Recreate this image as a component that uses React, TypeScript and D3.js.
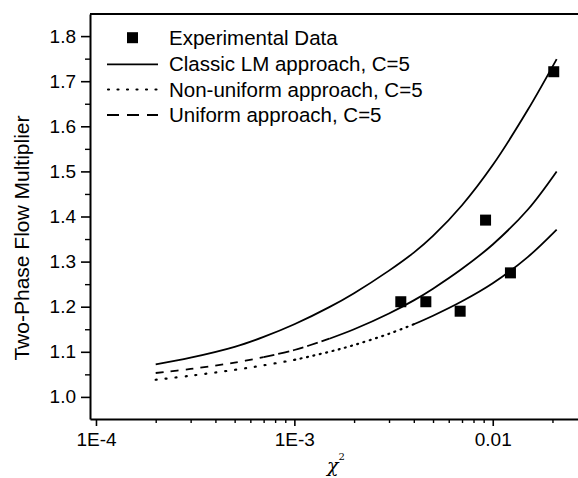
import React, { useEffect, useRef } from 'react';
import * as d3 from 'd3';

// model curves
const chi2 = [2e-4, 3e-4, 5e-4, 7e-4, 1e-3, 1.5e-3, 2e-3, 3e-3, 4e-3, 5e-3, 7e-3, 1e-2, 1.5e-2, 2.1e-2];
const classicLM = [1.072, 1.087, 1.111, 1.133, 1.161, 1.199, 1.23, 1.28, 1.32, 1.357, 1.425, 1.514, 1.636, 1.749];
const uniform = [1.053, 1.062, 1.076, 1.088, 1.104, 1.129, 1.15, 1.185, 1.214, 1.24, 1.284, 1.338, 1.415, 1.5];
const nonUniform = [1.038, 1.047, 1.06, 1.07, 1.082, 1.1, 1.115, 1.14, 1.161, 1.18, 1.212, 1.252, 1.31, 1.371];

// experimental points
const expChi2 = [3.44e-3, 4.6e-3, 6.85e-3, 9.2e-3, 1.228e-2, 2.03e-2];
const expPhi = [1.211, 1.211, 1.19, 1.392, 1.275, 1.721];

const yTicks = [1.0, 1.1, 1.2, 1.3, 1.4, 1.5, 1.6, 1.7, 1.8];
const yMinor = [1.05, 1.15, 1.25, 1.35, 1.45, 1.55, 1.65, 1.75];
const xTicks = [1e-4, 1e-3, 1e-2];
const xTickLabels = ['1E-4', '1E-3', '0.01'];
const xMinor = [2e-4, 3e-4, 4e-4, 5e-4, 6e-4, 7e-4, 8e-4, 9e-4, 2e-3, 3e-3, 4e-3, 5e-3, 6e-3, 7e-3, 8e-3, 9e-3, 2e-2];

const legendLabels = ['Experimental Data', 'Classic LM approach, C=5', 'Non-uniform approach, C=5', 'Uniform approach, C=5'];

const FONT = 'Arial, "Liberation Sans", Helvetica, sans-serif';

function App() {
  const chartRef = useRef<SVGSVGElement>(null);

  useEffect(() => {
    const width = 578;
    const height = 478;
    const margin = { top: 14, right: 0, bottom: 59, left: 90 };

    const svg = d3.select(chartRef.current)
      .attr('width', width)
      .attr('height', height);
    svg.selectAll('*').remove();

    const x = d3.scaleLog()
      .domain([9.33e-5, 0.0269])
      .range([margin.left, width - margin.right]);

    const y = d3.scaleLinear()
      .domain([0.951, 1.849])
      .range([height - margin.bottom, margin.top]);

    // top frame line
    svg.append('line')
      .attr('x1', margin.left).attr('x2', width)
      .attr('y1', margin.top).attr('y2', margin.top)
      .attr('stroke', '#000').attr('stroke-width', 2);

    // y axis
    const yAxis = svg.append('g')
      .attr('transform', `translate(${margin.left},0)`)
      .call(d3.axisLeft(y).tickValues(yTicks).tickSize(9).tickSizeOuter(0).tickPadding(5).tickFormat(d3.format('.1f')));
    yAxis.select('.domain').attr('stroke-width', 2);
    yAxis.selectAll('.tick line').attr('stroke-width', 1.6);
    yAxis.selectAll('text').style('font-family', FONT).style('font-size', '19px').attr('fill', '#000');

    svg.append('g')
      .attr('transform', `translate(${margin.left},0)`)
      .call(d3.axisLeft(y).tickValues(yMinor).tickSize(5).tickFormat(() => ''))
      .call(g => g.select('.domain').remove())
      .selectAll('.tick line').attr('stroke-width', 1.4);

    // x axis
    const xAxis = svg.append('g')
      .attr('transform', `translate(0,${height - margin.bottom})`)
      .call(d3.axisBottom(x).tickValues(xTicks).tickSize(7).tickSizeOuter(0).tickPadding(7)
        .tickFormat((d, i) => xTickLabels[i]));
    xAxis.select('.domain').attr('stroke-width', 2);
    xAxis.selectAll('.tick line').attr('stroke-width', 1.6);
    xAxis.selectAll('text').style('font-family', FONT).style('font-size', '19px').attr('fill', '#000');

    svg.append('g')
      .attr('transform', `translate(0,${height - margin.bottom})`)
      .call(d3.axisBottom(x).tickValues(xMinor).tickSize(4).tickFormat(() => ''))
      .call(g => g.select('.domain').remove())
      .selectAll('.tick line').attr('stroke-width', 1.4);

    // axis titles
    svg.append('text')
      .attr('transform', `translate(29,238) rotate(-90)`)
      .attr('text-anchor', 'middle')
      .style('font-family', FONT)
      .style('font-size', '21px')
      .text('Two-Phase Flow Multiplier');

    const xt = svg.append('text')
      .attr('x', 336)
      .attr('y', 472)
      .attr('text-anchor', 'middle')
      .style('font-family', '"DejaVu Serif", serif')
      .style('font-style', 'italic')
      .style('font-size', '19px');
    xt.append('tspan').text('χ');
    xt.append('tspan').attr('dy', -12).style('font-size', '10px').style('font-style', 'normal').text('2');

    // curves
    const line = d3.line<[number, number]>()
      .x(d => x(d[0]))
      .y(d => y(d[1]))
      .curve(d3.curveCatmullRom.alpha(0.5));

    const pts = (vals: number[]) => chi2.map((c, i) => [c, vals[i]] as [number, number]);

    const drawPart = (data: [number, number][], dash: string | null, sw: number, cap = 'butt') => {
      svg.append('path')
        .datum(data)
        .attr('d', line)
        .attr('fill', 'none')
        .attr('stroke', '#000')
        .attr('stroke-width', sw)
        .attr('stroke-linecap', cap)
        .attr('stroke-dasharray', dash);
    };

    const cl = pts(classicLM);
    drawPart(cl, null, 1.8);

    // Uniform: dashed at low x, dashes close up towards the right
    const un = pts(uniform);
    drawPart(un.slice(0, 4), '8 7', 1.8);
    drawPart(un.slice(3, 6), '11 4', 1.8);
    drawPart(un.slice(5), null, 1.8);

    // Non-uniform: dotted, dots pack tighter then turn solid
    const nu = pts(nonUniform);
    drawPart(nu.slice(0, 5), '1 9', 2.2, 'round');
    drawPart(nu.slice(4, 9), '1 5.5', 2.2, 'round');
    drawPart(nu.slice(8), null, 1.8);

    // experimental squares
    const sq = 11;
    svg.selectAll('.pt')
      .data(expChi2.map((c, i) => [c, expPhi[i]]))
      .enter()
      .append('rect')
      .attr('class', 'pt')
      .attr('x', d => x(d[0]) - sq / 2)
      .attr('y', d => y(d[1]) - sq / 2)
      .attr('width', sq)
      .attr('height', sq)
      .attr('fill', '#000');

    // legend
    const rowY = [37.7, 64.3, 89.5, 115];
    const lx1 = 107;
    const lx2 = 158;
    svg.append('rect')
      .attr('x', (lx1 + lx2) / 2 - 5.5)
      .attr('y', rowY[0] - 5.5)
      .attr('width', 11).attr('height', 11)
      .attr('fill', '#000');
    svg.append('line')
      .attr('x1', lx1).attr('x2', lx2).attr('y1', rowY[1]).attr('y2', rowY[1])
      .attr('stroke', '#000').attr('stroke-width', 1.8);
    svg.append('line')
      .attr('x1', lx1 + 1).attr('x2', lx2).attr('y1', rowY[2]).attr('y2', rowY[2])
      .attr('stroke', '#000').attr('stroke-width', 2.2)
      .attr('stroke-linecap', 'round').attr('stroke-dasharray', '1 8.5');
    svg.append('line')
      .attr('x1', lx1).attr('x2', lx2).attr('y1', rowY[3]).attr('y2', rowY[3])
      .attr('stroke', '#000').attr('stroke-width', 1.8)
      .attr('stroke-dasharray', '12 8');

    svg.selectAll('.leg')
      .data(legendLabels)
      .enter()
      .append('text')
      .attr('class', 'leg')
      .attr('x', 169)
      .attr('y', (d, i) => rowY[i] + 7)
      .style('font-family', FONT)
      .style('font-size', '20.5px')
      .text(d => d);
  }, []);

  return (
    <div>
      <svg ref={chartRef} style={{ position: 'absolute', left: 0, top: 0, background: '#fff' }}></svg>
    </div>
  );
}

export default App;
